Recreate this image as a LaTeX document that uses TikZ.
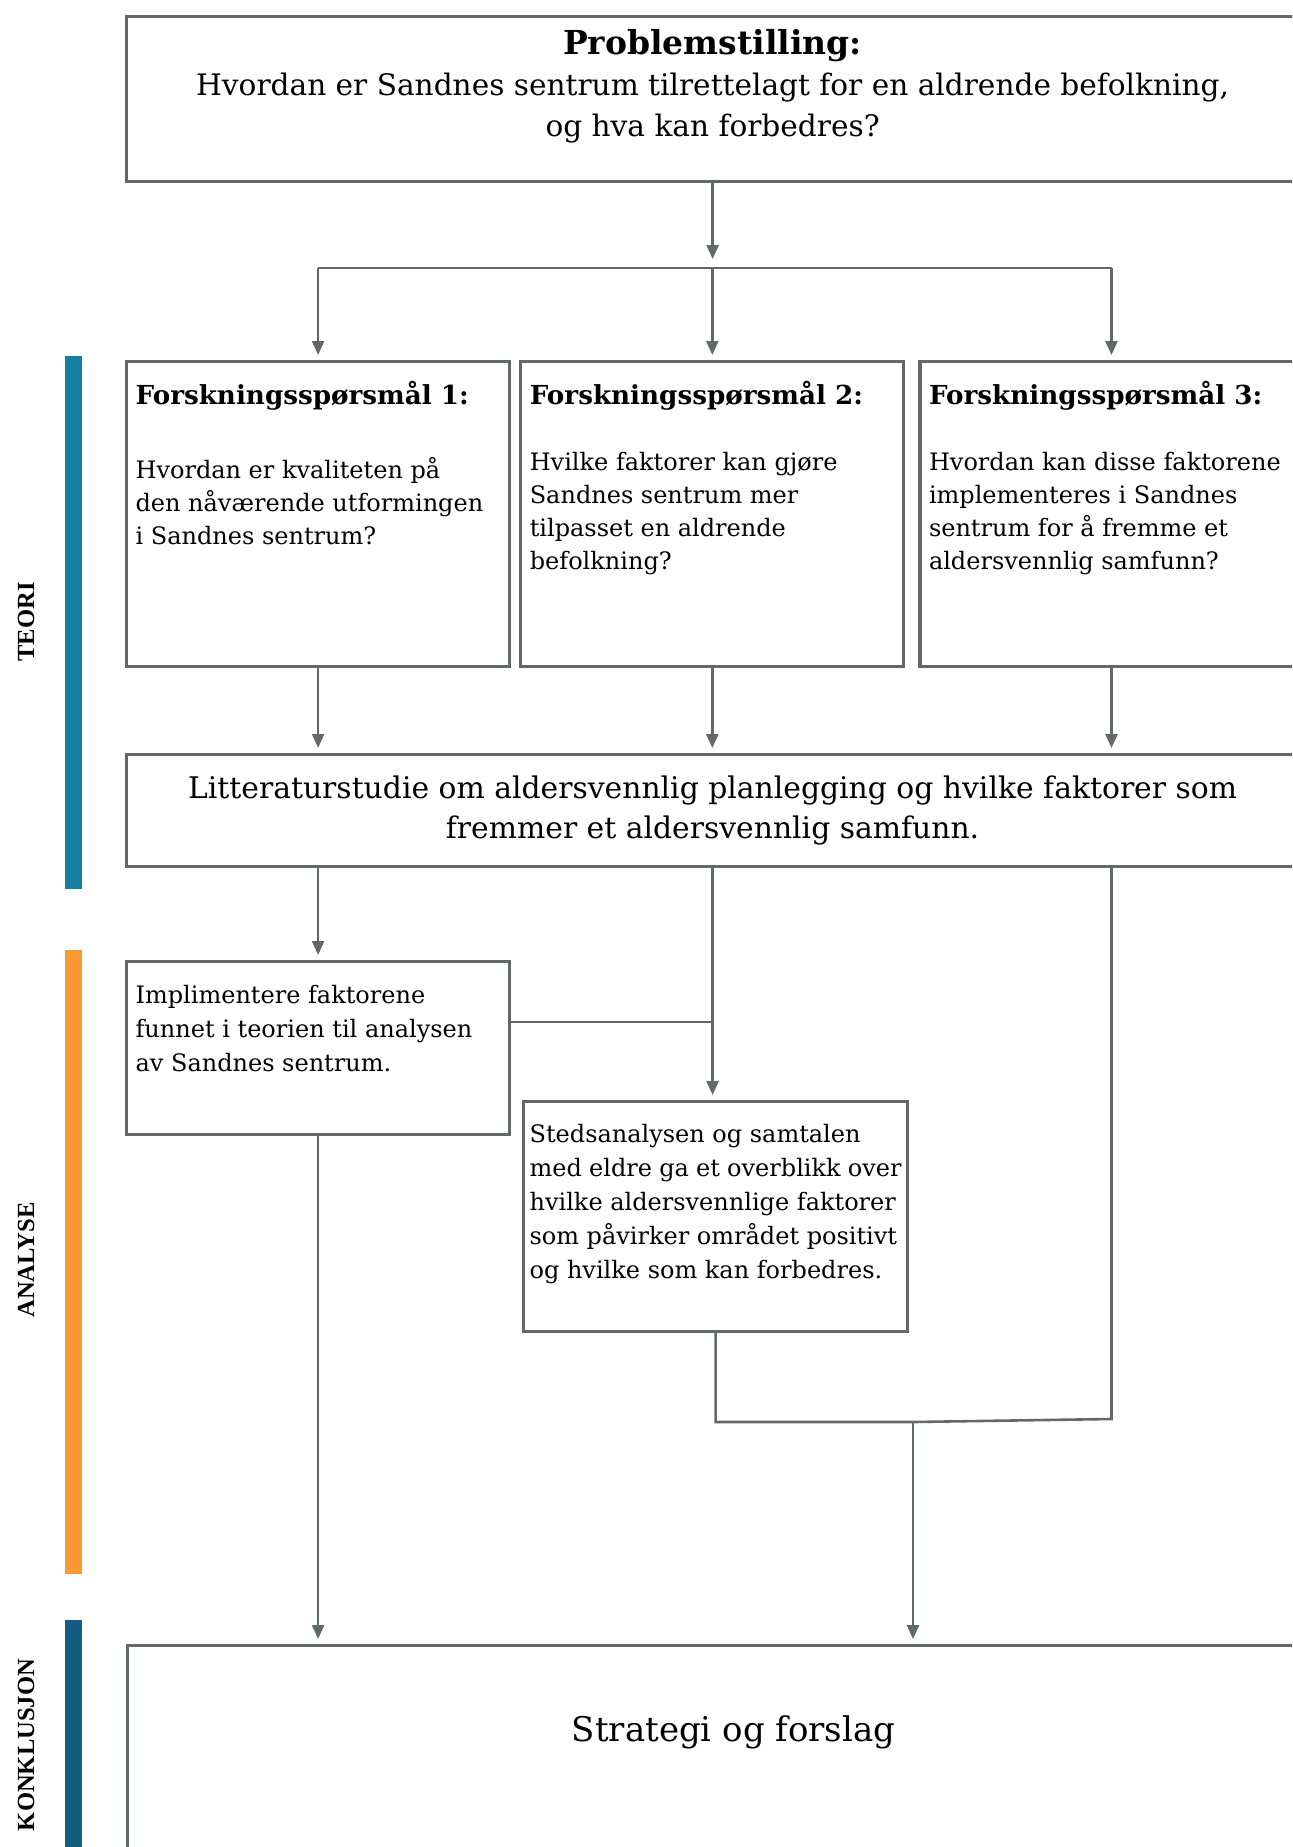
\documentclass[tikz,border=0pt]{standalone}
\usepackage{fontspec}
\setmainfont{DejaVu Serif}
\newfontfamily\sidefont{Liberation Serif}
\usetikzlibrary{arrows.meta, positioning}
\definecolor{linjeGraa}{HTML}{63686B}
\definecolor{teoriBla}{HTML}{1580A2}
\definecolor{analyseOransje}{HTML}{F79A34}
\definecolor{konklBla}{HTML}{155C82}

\newcommand{\toppboks}[3]{\parbox[c][#1][t]{#2}{\raggedright #3}}
\newcommand{\tittel}{\bfseries\fontsize{13.1}{15}\selectfont}

\begin{document}
\begin{tikzpicture}[
        x=1pt, y=1pt,
        boks/.style={draw=linjeGraa, line width=1.6pt, inner sep=0pt, anchor=north west},
        fb/.style={boks, minimum width=191.5pt, inner xsep=4.5pt, align=left,
            font=\fontsize{12}{16.5}\selectfont},
        linje/.style={draw=linjeGraa, line width=1.3pt},
        pil/.style={linje, -{Triangle[length=7pt, width=6pt]}, shorten >=2.5pt},
        fase/.style={rotate=90, font=\sidefont\bfseries\fontsize{12.3}{14}\selectfont}
    ]
        \useasboundingbox (0,0) rectangle (646,-923.5);
        \clip (0,0) rectangle (646,-923.5);

        % faser
        \fill[teoriBla] (32.5,-178) rectangle (41,-444.5);
        \fill[analyseOransje] (32.5,-475) rectangle (41,-787);
        \fill[konklBla] (32.5,-810) rectangle (41,-923.5);
        \node[fase] (teori) at (13,-311) {TEORI};
        \node[fase] (analyse) at (13,-630) {ANALYSE};
        \node[fase] (konkl) at (13,-872.5) {KONKLUSJON};

        % bokser
        \node[boks, minimum width=586pt, minimum height=82.5pt, align=center, text depth=16pt,
            font=\fontsize{14.8}{20.5}\selectfont] (prob) at (62.5,-7.5)
            {{\bfseries\fontsize{16.5}{20.5}\selectfont Problemstilling:}\\
             Hvordan er Sandnes sentrum tilrettelagt for en aldrende befolkning,\\
             og hva kan forbedres?};
        \node[fb] (fs1) at (62.5,-180) {\toppboks{152.5pt}{182.5pt}{\vspace{10pt}%
            {\tittel Forskningsspørsmål 1:}\par\vspace{20.5pt}%
            Hvordan er kvaliteten på\\ den nåværende utformingen\\ i Sandnes sentrum?}};
        \node[fb, right=4pt of fs1] (fs2) {\toppboks{152.5pt}{182.5pt}{\vspace{10pt}%
            {\tittel Forskningsspørsmål 2:}\par\vspace{16.5pt}%
            Hvilke faktorer kan gjøre\\ Sandnes sentrum mer\\ tilpasset en aldrende\\ befolkning?}};
        \node[fb, right=6.5pt of fs2] (fs3) {\toppboks{152.5pt}{182.5pt}{\vspace{10pt}%
            {\tittel Forskningsspørsmål 3:}\par\vspace{16.5pt}%
            Hvordan kan disse faktorene\\ implementeres i Sandnes\\ sentrum for å fremme et\\ aldersvennlig samfunn?}};
        \node[boks, minimum width=586pt, minimum height=56pt, align=center,
            font=\fontsize{14.9}{20}\selectfont] (lit) at (62.5,-376.5)
            {Litteraturstudie om aldersvennlig planlegging og hvilke faktorer som\\
             fremmer et aldersvennlig samfunn.};
        \node[fb] (impl) at (62.5,-480) {\toppboks{86.5pt}{182.5pt}{\vspace{12pt}%
            \baselineskip=17pt Implimentere faktorene\\ funnet i teorien til analysen\\ av Sandnes sentrum.}};
        \node[fb, minimum width=192pt, inner xsep=3pt] (steds) at (261,-550) {\toppboks{115pt}{186pt}{\vspace{11.5pt}%
            \baselineskip=17pt Stedsanalysen og samtalen\\ med eldre ga et overblikk over\\ hvilke aldersvennlige faktorer\\ som påvirker området positivt\\ og hvilke som kan forbedres.}};
        \node[boks, minimum width=606pt, minimum height=101.5pt, text depth=19pt,
            font=\fontsize{17}{20}\selectfont] (strat) at (63,-822) {Strategi og forslag};

        % piler
        \coordinate (delt) at (prob.south |- 0,-134);
        \draw[pil, shorten >=4.5pt] (prob.south) -- (delt);
        \draw[linje] (fs1.north |- delt) -- (fs3.north |- delt);
        \foreach \f in {fs1, fs2, fs3} {
            \draw[pil] (\f.north |- delt) -- (\f.north);
            \draw[pil] (\f.south) -- (\f.south |- lit.north);
        }
        \draw[pil] (impl.north |- lit.south) -- (impl.north);
        \draw[pil] (lit.south) -- (lit.south |- steds.north);
        \coordinate (inn) at ([yshift=13pt]impl.east);
        \draw[linje] (inn) -- (inn -| lit.south);
        \coordinate (samle) at (456.5,-711);
        \coordinate (hjorne) at (fs3.south |- 0,-709.5);
        \draw[linje] (steds.south) |- (samle) -- (hjorne) -- (hjorne |- lit.south);
        \draw[pil] (samle) -- (samle |- strat.north);
        \draw[pil] (impl.south) -- (impl.south |- strat.north);
    \end{tikzpicture}
\end{document}
